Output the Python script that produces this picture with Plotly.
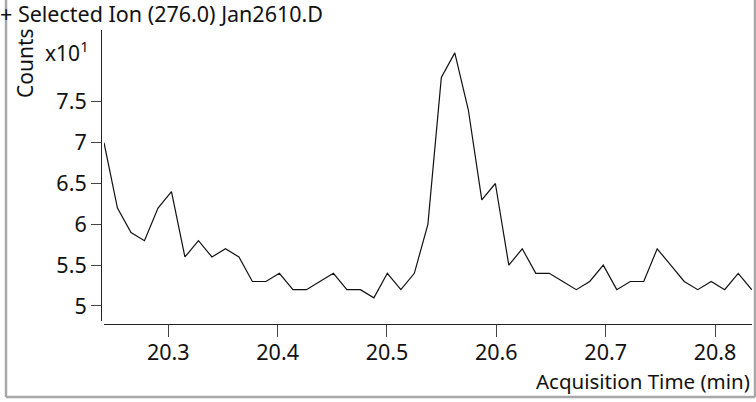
import plotly.graph_objects as go

# acquisition time (min) and counts (x10^1)
time_min = [20.2412, 20.2535, 20.2659, 20.2782, 20.2906, 20.3029, 20.3152, 20.3276,
            20.3399, 20.3523, 20.3646, 20.3769, 20.3893, 20.4016, 20.4140, 20.4263,
            20.4386, 20.4510, 20.4633, 20.4757, 20.4880, 20.5003, 20.5127, 20.5250,
            20.5374, 20.5497, 20.5620, 20.5744, 20.5867, 20.5991, 20.6114, 20.6237,
            20.6361, 20.6484, 20.6608, 20.6731, 20.6854, 20.6978, 20.7101, 20.7225,
            20.7348, 20.7471, 20.7595, 20.7718, 20.7842, 20.7965, 20.8088, 20.8212,
            20.8335]
counts = [7.0, 6.2, 5.9, 5.8, 6.2, 6.4, 5.6, 5.8, 5.6, 5.7, 5.6, 5.3, 5.3, 5.4, 5.2,
          5.2, 5.3, 5.4, 5.2, 5.2, 5.1, 5.4, 5.2, 5.4, 6.0, 7.8, 8.1, 7.4,
          6.3, 6.5, 5.5, 5.7, 5.4, 5.4, 5.3, 5.2, 5.3, 5.5, 5.2, 5.3, 5.3, 5.7, 5.5,
          5.3, 5.2, 5.3, 5.2, 5.4, 5.2]

x_ticks = [20.3, 20.4, 20.5, 20.6, 20.7, 20.8]
x_ticktext = ["20.3", "20.4", "20.5", "20.6", "20.7", "20.8"]
y_ticks = [5, 5.5, 6, 6.5, 7, 7.5]
y_ticktext = ["5", "5.5", "6", "6.5", "7", "7.5"]
y_top_tick = [8]  # unlabelled, the x10^1 marker sits beside it

title_text = "+ Selected Ion (276.0) Jan2610.D"

W, H = 756, 402
L, R, T, B = 101, 752, 30, 324
FONT = "Noto Sans"
FS = 21.5
Y_RANGE = [4.816, 8.380]


def px_x(x):
    return (x - L) / (R - L)


def px_y(y):
    return (B - y) / (B - T)


fig = go.Figure()
fig.add_trace(go.Scatter(x=time_min, y=counts, mode="lines",
                         line=dict(color="#111111", width=1.2),
                         showlegend=False, hoverinfo="skip"))

tick_style = dict(showgrid=False, zeroline=False, ticks="outside",
                  tickcolor="#444444", tickwidth=1)

fig.update_layout(
    width=W, height=H,
    margin=dict(l=L, r=W - R, t=T, b=H - B, pad=0),
    paper_bgcolor="white", plot_bgcolor="white",
    font=dict(family=FONT, size=FS, color="#111111"),
    xaxis=dict(range=[20.2412, 20.8338], domain=[3 / (R - L), 1],
               anchor="free", position=0,
               tickvals=x_ticks, ticktext=x_ticktext,
               showline=True, linecolor="#222222", linewidth=1,
               ticklen=12, ticklabelstandoff=-3, **tick_style),
    yaxis=dict(range=Y_RANGE, domain=[3 / (B - T), 1],
               anchor="free", position=0,
               tickvals=y_ticks, ticktext=y_ticktext,
               showline=True, linecolor="#222222", linewidth=1,
               ticklen=10, ticklabelstandoff=0, **tick_style),
    yaxis2=dict(range=Y_RANGE, domain=[3 / (B - T), 1],
                anchor="free", position=0, overlaying="y",
                tickvals=y_top_tick, showticklabels=False,
                showline=False, ticklen=10, **tick_style),
)

ann = dict(xref="paper", yref="paper", showarrow=False)
fig.add_annotation(text=title_text, x=px_x(-2), y=px_y(13),
                   xanchor="left", yanchor="middle",
                   font=dict(family=FONT, size=21.5, color="#111111"), **ann)
fig.add_annotation(text="Counts", x=px_x(25), y=px_y(63), textangle=-90,
                   xanchor="center", yanchor="middle",
                   font=dict(family=FONT, size=21, color="#111111"), **ann)
fig.add_annotation(text="x10<sup>1</sup>", x=px_x(91), y=px_y(52),
                   xanchor="right", yanchor="middle",
                   font=dict(family=FONT, size=21, color="#111111"), **ann)
fig.add_annotation(text="Acquisition Time (min)", x=px_x(752), y=px_y(381),
                   xanchor="right", yanchor="middle",
                   font=dict(family=FONT, size=20.5, color="#111111"), **ann)

# grey frame (left, bottom, right)
for x0, y0, x1, y1 in [(6, 0, 6, 397), (6, 397, 755, 397), (755, 0, 755, 397)]:
    fig.add_shape(type="line", xref="paper", yref="paper",
                  x0=px_x(x0), y0=px_y(y0), x1=px_x(x1), y1=px_y(y1),
                  line=dict(color="#a8a8a8", width=2.5))

fig.write_html("out.html", config={"displayModeBar": False},
               post_script="document.body.style.margin='0';")
